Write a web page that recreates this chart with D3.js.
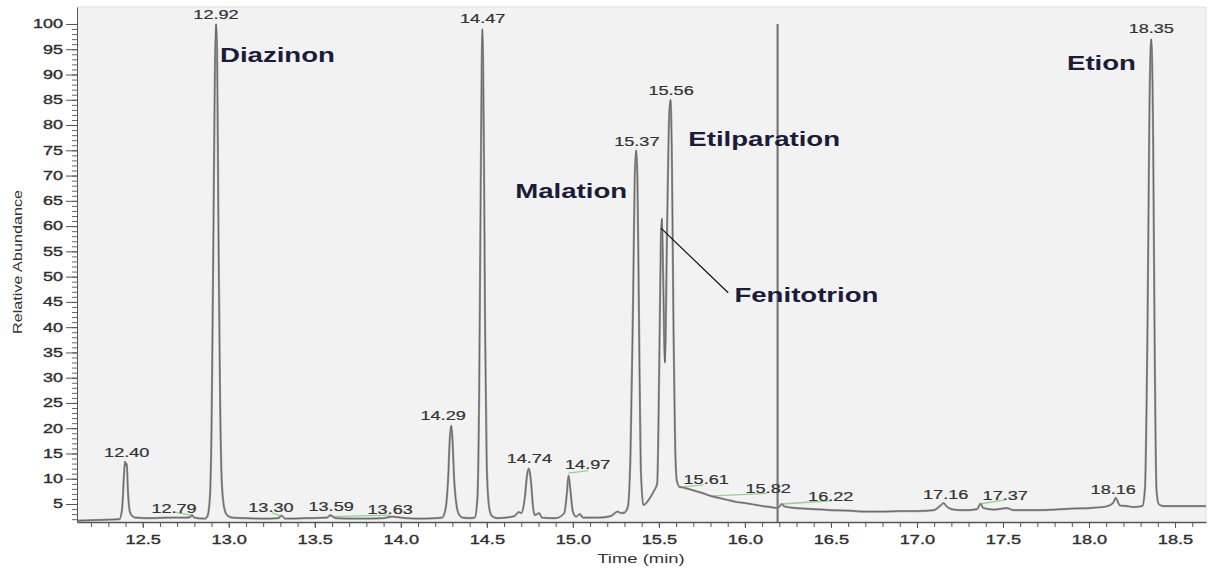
<!DOCTYPE html>
<html>
<head>
<meta charset="utf-8">
<script src="https://cdnjs.cloudflare.com/ajax/libs/d3/7.8.5/d3.min.js"></script>
<style>
  body { margin: 0; background: #fff; }
  svg { display: block; font-family: "Liberation Sans", Arial, sans-serif; }
</style>
</head>
<body>
<div id="chart"></div>
<script>
// chromatogram trace (time in min, relative abundance)
var rt = [12.118, 12.2, 12.3, 12.365, 12.38, 12.39, 12.397, 12.402, 12.407, 12.415, 12.425, 12.44, 12.46, 12.55, 12.65, 12.75, 12.775, 12.786, 12.8, 12.86,
  12.875, 12.89, 12.90, 12.91, 12.92, 12.926, 12.932, 12.94, 12.95, 12.96, 12.975, 12.99, 13.02, 13.1, 13.2, 13.29, 13.305, 13.33, 13.45, 13.57, 13.59, 13.62, 13.75, 13.9, 13.95, 14.0, 14.1, 14.2,
  14.24, 14.26, 14.275, 14.285, 14.293, 14.30, 14.31, 14.325, 14.34, 14.36, 14.40,
  14.43, 14.445, 14.455, 14.465, 14.474, 14.482, 14.49, 14.50, 14.515, 14.53, 14.56, 14.66, 14.685, 14.70,
  14.72, 14.735, 14.745, 14.755, 14.77, 14.78, 14.804, 14.82, 14.90, 14.95, 14.965, 14.975, 14.985, 15.0, 15.02, 15.04, 15.06, 15.15, 15.22, 15.26, 15.28, 15.30,
  15.32, 15.335, 15.35, 15.36, 15.368, 15.375, 15.385, 15.395, 15.41, 15.44, 15.47, 15.49,
  15.505, 15.512, 15.518, 15.525, 15.535, 15.548, 15.56, 15.568, 15.575, 15.585, 15.595, 15.605, 15.62,
  15.65, 15.7, 15.75, 15.8, 15.85, 15.9, 15.95, 16.0, 16.05, 16.1, 16.15, 16.19, 16.215, 16.23, 16.3, 16.4, 16.5, 16.6, 16.7, 16.8, 16.9, 17.0,
  17.1, 17.14, 17.155, 17.17, 17.2, 17.25, 17.3, 17.35, 17.37, 17.385, 17.45, 17.52, 17.56, 17.7, 17.8, 17.9, 18.0, 18.1, 18.14, 18.155, 18.165, 18.18, 18.22, 18.26,
  18.31, 18.325, 18.34, 18.352, 18.362, 18.372, 18.382, 18.392, 18.405, 18.43, 18.5, 18.6, 18.68];
var ab = [1.7, 1.8, 1.9, 2.0, 4, 10, 13.4, 12.6, 13, 7, 3.5, 2.6, 2.3, 2.2, 2.3, 2.3, 2.4, 2.8, 2.3, 2.1,
  2.5, 6, 20, 55, 92, 100, 95, 60, 25, 9, 4, 2.8, 2.3, 2.2, 2.1, 2.2, 2.7, 2.1, 2.2, 2.3, 2.8, 2.2, 2.1, 2.2, 2.5, 2.3, 2.1, 2.2,
  2.3, 4, 10, 18, 20.5, 18, 10, 4.5, 2.8, 2.3, 2.2,
  2.3, 6, 25, 70, 99, 80, 40, 12, 4, 2.6, 2.2, 2.6, 3.4, 3.2,
  6, 11, 12, 10, 4, 2.8, 3.2, 2.3, 2.2, 3.2, 7, 10.6, 8, 3.5, 2.5, 3.0, 2.3, 2.3, 2.6, 3.5, 3.2, 3.3,
  4.5, 15, 45, 70, 75, 70, 40, 12, 4.8, 5.8, 7.5, 9,
  40, 58, 61.5, 50, 33, 60, 82, 85, 75, 40, 16, 9.5, 8.4,
  8.2, 7.7, 7.2, 6.6, 6.2, 5.8, 5.4, 5.2, 4.9, 4.6, 4.4, 4.2, 5.0, 4.5, 4.2, 4.0, 3.8, 3.7, 3.5, 3.5, 3.6, 3.6,
  3.8, 4.8, 5.2, 4.6, 4.0, 3.8, 3.8, 4.0, 5.1, 4.2, 3.9, 4.2, 3.8, 3.8, 3.9, 4.1, 4.2, 4.5, 5.2, 6.2, 5.6, 4.7, 4.6, 4.4,
  4.6, 8, 40, 85, 97, 80, 35, 8, 5, 4.6, 4.6, 4.6, 4.6];

// retention time labels: text, anchor time, anchor abundance (baseline of label)
var rtLabels = ["12.40", "12.79", "12.92", "13.30", "13.59", "13.63", "14.29", "14.47", "14.74", "14.97",
  "15.37", "15.56", "15.61", "15.82", "16.22", "17.16", "17.37", "18.16", "18.35"];
var rtLabelT = [12.407, 12.682, 12.926, 13.245, 13.595, 13.938, 14.246, 14.476, 14.747, 15.086,
  15.372, 15.571, 15.775, 16.135, 16.499, 17.167, 17.513, 18.141, 18.362];
var rtLabelV = [14.4, 3.3, 101.0, 3.4, 3.6, 3.0, 21.6, 100.2, 13.2, 11.9,
  75.9, 86.0, 9.0, 7.1, 5.65, 5.9, 5.8, 6.9, 98.2];

// green integration marks (t1, v1, t2, v2)
var marks = [
  [12.683, 3.4, 12.793, 2.7],
  [13.25, 3.3, 13.298, 2.6],
  [13.589, 2.5, 13.938, 2.8],
  [14.974, 11.1, 15.09, 11.6],
  [15.614, 8.3, 15.759, 8.8],
  [15.817, 6.6, 16.128, 7.1],
  [16.215, 5.0, 16.496, 5.65],
  [17.378, 5.1, 17.513, 5.8],
  [18.153, 6.4, 18.172, 5.4]
];

// compound names, left edge time and baseline abundance
var compounds = ["Diazinon", "Malation", "Etilparation", "Fenitotrion", "Etion"];
var compoundT = [12.949, 14.665, 15.671, 15.939, 17.872];
var compoundV = [92.5, 65.6, 75.9, 45.0, 90.9];
var leader = [15.512, 59.6, 15.903, 46.8];

var refLineT = 16.19;

var xMajor = d3.range(12.5, 18.51, 0.5);
var xMinor = d3.range(12.2, 18.61, 0.1);
var yMajor = d3.range(5, 101, 5);
var yMinor = d3.range(2, 101, 1);

function drawChart() {
  var W = 1209, H = 571;
  var pLeft = 77, pRight = 1206, pTop = 7, pBottom = 522;

  var svg = d3.select("#chart").append("svg")
    .attr("width", W)
    .attr("height", H);

  var x = d3.scaleLinear().domain([12.118, 18.68]).range([pLeft, pRight]);
  var y = d3.scaleLinear().domain([1.44, 103.36]).range([pBottom, pTop]);

  // plot panel
  svg.append("rect")
    .attr("x", pLeft).attr("y", pTop)
    .attr("width", pRight - pLeft).attr("height", pBottom - pTop)
    .attr("fill", "#f2f2f2");
  svg.append("line")
    .attr("x1", pLeft).attr("x2", pRight).attr("y1", pTop).attr("y2", pTop)
    .attr("stroke", "#dedede");
  svg.append("line")
    .attr("x1", pRight).attr("x2", pRight).attr("y1", pTop).attr("y2", pBottom)
    .attr("stroke", "#e4e4e4");

  svg.append("clipPath").attr("id", "clip")
    .append("rect").attr("x", pLeft).attr("y", pTop - 2)
    .attr("width", pRight - pLeft).attr("height", pBottom - pTop + 2);

  // reference line
  svg.append("line")
    .attr("x1", x(refLineT)).attr("x2", x(refLineT))
    .attr("y1", y(100)).attr("y2", pBottom)
    .attr("stroke", "#8f8f8f")
    .attr("stroke-width", 2.4);
  svg.append("line")
    .attr("x1", x(refLineT)).attr("x2", x(refLineT))
    .attr("y1", y(100)).attr("y2", pBottom)
    .attr("stroke", "#666")
    .attr("stroke-width", 0.7);

  // green marks
  svg.append("g")
    .selectAll("line")
    .data(marks)
    .enter()
    .append("line")
      .attr("x1", function (d) { return x(d[0]); })
      .attr("y1", function (d) { return y(d[1]); })
      .attr("x2", function (d) { return x(d[2]); })
      .attr("y2", function (d) { return y(d[3]); })
      .attr("stroke", "#8fd48f")
      .attr("stroke-width", 1.3);

  // the trace
  var pts = rt.map(function (t, i) { return [t, ab[i]]; });
  var line = d3.line()
    .x(function (d) { return x(d[0]); })
    .y(function (d) { return y(d[1]); })
    .curve(d3.curveMonotoneX);

  var trace = svg.append("g").attr("clip-path", "url(#clip)");
  trace.append("path")
    .datum(pts)
    .attr("d", line)
    .attr("fill", "none")
    .attr("stroke", "#9a9a9a")
    .attr("stroke-width", 2.2)
    .attr("stroke-linejoin", "round");
  trace.append("path")
    .datum(pts)
    .attr("d", line)
    .attr("fill", "none")
    .attr("stroke", "#5a5a5a")
    .attr("stroke-width", 0.8)
    .attr("stroke-linejoin", "round");

  // axes
  var yAxisMinor = svg.append("g")
    .attr("transform", "translate(" + pLeft + ",0)")
    .call(d3.axisLeft(y).tickValues(yMinor).tickSize(5).tickFormat(""));
  yAxisMinor.select(".domain").remove();
  yAxisMinor.selectAll("line").attr("stroke", "#666");

  var ySx = 1.5;
  var yAxis = svg.append("g")
    .attr("transform", "translate(" + pLeft + ",0)")
    .call(d3.axisLeft(y).tickValues(yMajor).tickSize(11).tickPadding(3).tickSizeOuter(0));
  yAxis.select(".domain").attr("stroke", "#555");
  yAxis.selectAll("line").attr("stroke", "#555");
  yAxis.selectAll("text")
    .attr("x", -14 / ySx)
    .attr("transform", "scale(" + ySx + ",1)")
    .attr("fill", "#2e2e2e")
    .attr("stroke", "#2e2e2e")
    .attr("stroke-width", 0.35)
    .style("font-size", "12px");

  var xAxisMinor = svg.append("g")
    .attr("transform", "translate(0," + pBottom + ")")
    .call(d3.axisBottom(x).tickValues(xMinor).tickSize(5).tickFormat(""));
  xAxisMinor.select(".domain").remove();
  xAxisMinor.selectAll("line").attr("stroke", "#555");

  var xAxis = svg.append("g")
    .attr("transform", "translate(0," + pBottom + ")")
    .call(d3.axisBottom(x).tickValues(xMajor).tickSize(6).tickPadding(7).tickSizeOuter(0).tickFormat(d3.format(".1f")));
  xAxis.select(".domain").attr("stroke", "#555").attr("stroke-width", 1.5);
  xAxis.selectAll("line").attr("stroke", "#555");
  xAxis.selectAll("text")
    .attr("transform", "scale(1.4,1)")
    .attr("fill", "#2e2e2e")
    .attr("stroke", "#2e2e2e")
    .attr("stroke-width", 0.35)
    .style("font-size", "13px");

  // axis titles
  svg.append("text")
    .attr("transform", "translate(22,262) rotate(-90) scale(1.35,1)")
    .attr("text-anchor", "middle")
    .attr("fill", "#333")
    .style("font-size", "12px")
    .text("Relative Abundance");

  svg.append("text")
    .attr("transform", "translate(641,563) scale(1.42,1)")
    .attr("text-anchor", "middle")
    .attr("fill", "#333")
    .style("font-size", "13px")
    .text("Time (min)");

  // retention time labels
  svg.append("g")
    .selectAll("text")
    .data(rtLabels)
    .enter()
    .append("text")
      .attr("transform", function (d, i) {
        return "translate(" + x(rtLabelT[i]) + "," + y(rtLabelV[i]) + ") scale(1.45,1)";
      })
      .attr("text-anchor", "middle")
      .attr("fill", "#333")
      .attr("stroke", "#333")
      .attr("stroke-width", 0.2)
      .style("font-size", "12.5px")
      .text(function (d) { return d; });

  // compound names
  svg.append("line")
    .attr("x1", x(leader[0])).attr("y1", y(leader[1]))
    .attr("x2", x(leader[2])).attr("y2", y(leader[3]))
    .attr("stroke", "#111")
    .attr("stroke-width", 1.2);

  svg.append("g")
    .selectAll("text")
    .data(compounds)
    .enter()
    .append("text")
      .attr("transform", function (d, i) {
        return "translate(" + x(compoundT[i]) + "," + y(compoundV[i]) + ") scale(1.38,1)";
      })
      .attr("fill", "#1b1b3a")
      .style("font-size", "20px")
      .style("font-weight", "bold")
      .text(function (d) { return d; });
}

drawChart();
</script>
</body>
</html>
